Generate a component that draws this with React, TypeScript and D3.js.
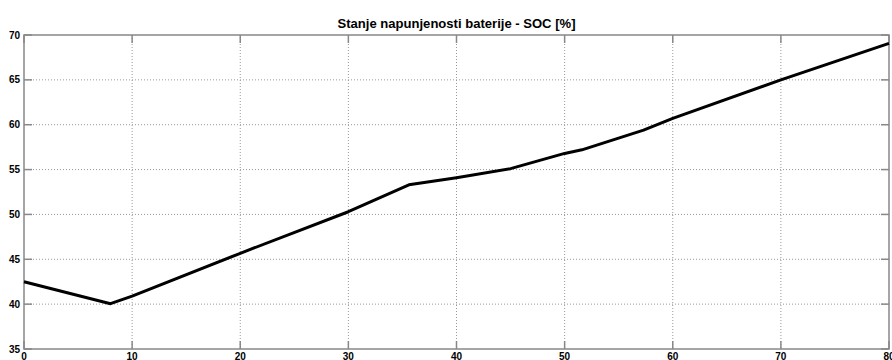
import React from "react";
import * as d3 from "d3";

const xValues = [0, 8, 10, 20, 30, 35.6, 40, 45, 50, 51.6, 57.3, 60, 70, 80];
const socValues = [42.5, 40.05, 40.9, 45.67, 50.3, 53.3, 54.1, 55.1, 56.8, 57.2, 59.4, 60.7, 65.0, 69.07];
const xTicks = [0, 10, 20, 30, 40, 50, 60, 70, 80];
const yTicks = [35, 40, 45, 50, 55, 60, 65, 70];
const title = "Stanje napunjenosti baterije - SOC [%]";

export default function App() {
  const W = 892, H = 360;
  const left = 24, right = 889, top = 35, bottom = 349;
  const x = d3.scaleLinear().domain([0, 80]).range([left, right]);
  const y = d3.scaleLinear().domain([35, 70]).range([bottom, top]);
  const line = d3
    .line<number>()
    .x((_, i) => x(xValues[i]))
    .y((d) => y(d));
  const axisColor = "#888888";
  const gridColor = "#999999";
  const font = "Arial, 'Liberation Sans', sans-serif";
  const tickLen = 8;
  return (
    <svg
      width={W}
      height={H}
      style={{ position: "absolute", left: 0, top: 0, background: "#fff" }}
    >
      <rect x={0} y={0} width={W} height={H} fill="#fff" />
      {xTicks.slice(1, -1).map((t) => (
        <line key={"gx" + t} x1={x(t)} x2={x(t)} y1={top} y2={bottom} stroke={gridColor} strokeWidth={1} strokeDasharray="1,2" />
      ))}
      {yTicks.slice(1, -1).map((t) => (
        <line key={"gy" + t} x1={left} x2={right} y1={y(t)} y2={y(t)} stroke={gridColor} strokeWidth={1} strokeDasharray="1,2" />
      ))}
      {xTicks.map((t) => (
        <g key={"tx" + t}>
          <line x1={x(t)} x2={x(t)} y1={bottom} y2={bottom - tickLen} stroke={axisColor} strokeWidth={1.5} />
          <line x1={x(t)} x2={x(t)} y1={top} y2={top + tickLen} stroke={axisColor} strokeWidth={1.5} />
          <text x={x(t)} y={359.5} textAnchor="middle" fontFamily={font} fontWeight="bold" fontSize={10} fill="#000">
            {t}
          </text>
        </g>
      ))}
      {yTicks.map((t) => (
        <g key={"ty" + t}>
          <line x1={left} x2={left + tickLen} y1={y(t)} y2={y(t)} stroke={axisColor} strokeWidth={1.5} />
          <line x1={right} x2={right - tickLen} y1={y(t)} y2={y(t)} stroke={axisColor} strokeWidth={1.5} />
          <text x={20} y={y(t) + 3.5} textAnchor="end" fontFamily={font} fontWeight="bold" fontSize={10} fill="#000">
            {t}
          </text>
        </g>
      ))}
      <rect x={left} y={top} width={right - left} height={bottom - top} fill="none" stroke={axisColor} strokeWidth={1.5} />
      <path d={line(socValues) || ""} fill="none" stroke="#000" strokeWidth={3} strokeLinejoin="round" />
      <text
        x={(left + right) / 2}
        y={28}
        textAnchor="middle"
        fontFamily={font}
        fontWeight="bold"
        fontSize={13.5}
        textLength={238}
        lengthAdjust="spacingAndGlyphs"
        fill="#000"
      >
        {title}
      </text>
    </svg>
  );
}
